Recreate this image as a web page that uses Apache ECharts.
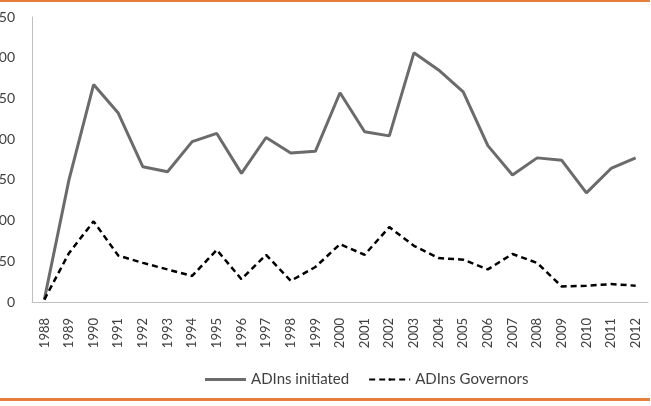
<!DOCTYPE html>
<html>
<head>
<meta charset="utf-8">
<script src="https://cdn.jsdelivr.net/npm/echarts@6/dist/echarts.min.js"></script>
<style>html,body{margin:0;padding:0;background:#fff}#c{width:651px;height:406px}</style>
</head>
<body>
<div id="c"></div>
<script>
const years = ['1988','1989','1990','1991','1992','1993','1994','1995','1996','1997','1998','1999','2000','2001','2002','2003','2004','2005','2006','2007','2008','2009','2010','2011','2012'];
const adinsInitiated = [3,150,267,232,166,160,197,207,158,202,183,185,257,209,204,306,285,258,192,156,177,174,134,164,177];
const adinsGovernors = [3,60,99,57,48,40,32,64,28,58,26,43,71,58,92,69,54,52,40,59,48,19,20,22,20];
const yTicks = [0,50,100,150,200,250,300,350];

const chart = echarts.init(document.getElementById('c'), null, {renderer:'canvas'});
const font = 'Lato, "Open Sans", sans-serif';
chart.setOption({
  animation:false,
  backgroundColor:'#fff',
  grid:{left:32, right:3, top:17, bottom:104, containLabel:false, outerBoundsMode:'none'},
  xAxis:{
    type:'category', data:years, boundaryGap:true,
    axisLine:{lineStyle:{color:'#bfbfbf', width:1}},
    axisTick:{show:false},
    axisLabel:{rotate:90, color:'#404040', fontFamily:font, fontSize:13, margin:16, interval:0}
  },
  yAxis:{
    type:'value', min:yTicks[0], max:yTicks[yTicks.length-1], interval:50,
    axisLine:{show:true, lineStyle:{color:'#bfbfbf', width:1}},
    axisTick:{show:false},
    splitLine:{show:false},
    axisLabel:{color:'#404040', fontFamily:font, fontSize:14, margin:17}
  },
  legend:{
    bottom:14, left:200, itemWidth:41, itemHeight:3, itemGap:19,
    textStyle:{color:'#404040', fontFamily:font, fontSize:15},
    data:[
      {name:'ADIns initiated', icon:'rect'},
      {name:'ADIns Governors'}
    ]
  },
  series:[
    {name:'ADIns initiated', type:'line', data:adinsInitiated, symbol:'none',
     lineStyle:{color:'#6b6b6b', width:3}, itemStyle:{color:'#6b6b6b'}},
    {name:'ADIns Governors', type:'line', data:adinsGovernors, symbol:'none',
     lineStyle:{color:'#000', width:2.5, type:[6,4]}, itemStyle:{color:'#000'}}
  ],
  graphic:[
    {type:'rect', shape:{x:0, y:0, width:650, height:2}, style:{fill:'#e67e3c'}},
    {type:'rect', shape:{x:0, y:398, width:650, height:3}, style:{fill:'#e67e3c'}}
  ]
});
</script>
</body>
</html>
